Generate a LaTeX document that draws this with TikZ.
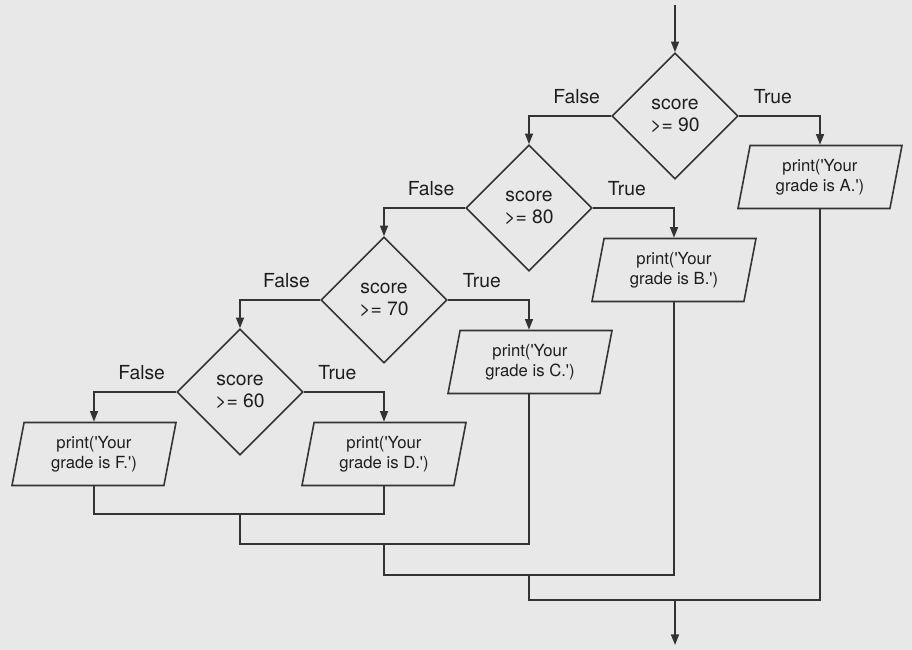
\documentclass[tikz,border=0pt]{standalone}
\usepackage{fontspec}
\setmainfont{TeX Gyre Heros}
\usetikzlibrary{arrows.meta,shapes.geometric}
\definecolor{Fondo}{HTML}{E8E8E8}
\definecolor{Linea}{HTML}{333333}
\definecolor{Texto}{HTML}{1E1E1E}
\newcommand{\qt}{\textquotesingle}

\begin{document}
\begin{tikzpicture}[
  >={Triangle[length=6pt,width=4.5pt]},
  every node/.style={font=\fontsize{11}{13}\selectfont,text=Texto},
  flow/.style={->,draw=Linea,line width=0.9pt},
  merge/.style={draw=Linea,line width=0.9pt},
  test/.style={diamond,aspect=1,draw=Linea,line width=0.9pt,
    minimum width=2.52cm,minimum height=2.52cm,inner sep=0pt,align=center},
  io/.style={trapezium,trapezium left angle=73,trapezium right angle=107,
    trapezium stretches body,draw=Linea,line width=0.9pt,
    minimum width=3.28cm,minimum height=1.26cm,inner sep=1pt,align=center,
    font=\fontsize{9.5}{11.5}\selectfont},
  lbl/.style={above=3pt,pos=0.21}
]
  \fill[Fondo] (0,0) rectangle (18.24,-13);
  \useasboundingbox (0,0) rectangle (18.24,-13);

  % decisions
  \node[test] (d90) at (13.50,-2.32) {score\\>= 90};
  \node[test] (d80) at (10.58,-4.16) {score\\>= 80};
  \node[test] (d70) at (7.68,-6.00) {score\\>= 70};
  \node[test] (d60) at (4.80,-7.84) {score\\>= 60};

  % outputs
  \node[io] (pA) at (16.40,-3.54) {print(\qt Your\\grade is A.\qt)};
  \node[io] (pB) at (13.48,-5.40) {print(\qt Your\\grade is B.\qt)};
  \node[io] (pC) at (10.60,-7.24) {print(\qt Your\\grade is C.\qt)};
  \node[io] (pD) at (7.68,-9.08) {print(\qt Your\\grade is D.\qt)};
  \node[io] (pF) at (1.88,-9.08) {print(\qt Your\\grade is F.\qt)};

  \coordinate (start) at (13.50,-0.10);
  \coordinate (stop) at (13.50,-12.90);
  \coordinate (j1) at (4.80,-10.28);
  \coordinate (j2) at (4.80,-10.88);
  \coordinate (j3) at (7.68,-10.88);
  \coordinate (j4) at (7.68,-11.50);
  \coordinate (j5) at (10.58,-11.50);
  \coordinate (j6) at (10.58,-12.00);
  \coordinate (j7) at (13.50,-12.00);

  \draw[flow] (start) -- (d90.north);
  \draw[flow] (d90.east) -| node[lbl] {True} (pA.north);
  \draw[flow] (d90.west) -| node[lbl] {False} (d80.north);
  \draw[flow] (d80.east) -| node[lbl] {True} (pB.north);
  \draw[flow] (d80.west) -| node[lbl] {False} (d70.north);
  \draw[flow] (d70.east) -| node[lbl] {True} (pC.north -| j5);
  \draw[flow] (d70.west) -| node[lbl] {False} (d60.north);
  \draw[flow] (d60.east) -| node[lbl] {True} (pD.north);
  \draw[flow] (d60.west) -| node[lbl] {False} (pF.north);

  % merging
  \draw[merge] (pF.south) |- (j1) -| (pD.south);
  \draw[merge] (j1) -- (j2) -| (pC.south -| j5);
  \draw[merge] (j3) -- (j4) -| (pB.south);
  \draw[merge] (j5) -- (j6) -| (pA.south);
  \draw[flow] (j7) -- (stop);
\end{tikzpicture}
\end{document}
